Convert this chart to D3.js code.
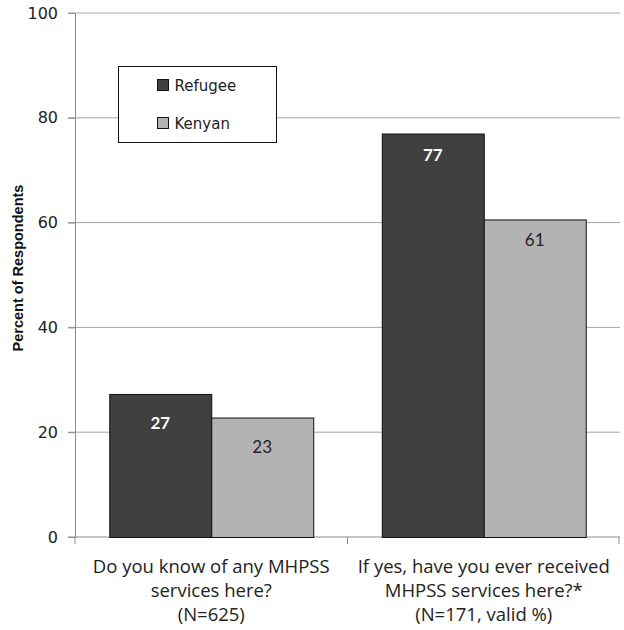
<!DOCTYPE html>
<html><head><meta charset="utf-8">
<script src="https://cdn.jsdelivr.net/npm/d3@7"></script>
<style>body{margin:0;background:#fff}</style>
</head><body>
<script>
const categories = [
  ["Do you know of any MHPSS", "services here?", "(N=625)"],
  ["If yes, have you ever received", "MHPSS services here?*", "(N=171, valid %)"]
];
const seriesNames = ["Refugee", "Kenyan"];
const refugee = [27.3, 77.0];
const kenyan = [22.8, 60.6];
const labelsRefugee = ["27", "77"];
const labelsKenyan = ["23", "61"];
const yTicks = [0, 20, 40, 60, 80, 100];

const W = 624, H = 630;
const m = {left: 75, right: 4, top: 13, bottom: 93};
const svg = d3.select("body").append("svg").attr("width", W).attr("height", H);
const x = d3.scaleBand().domain([0, 1]).range([m.left, W - m.right]);
const y = d3.scaleLinear().domain([0, 100]).range([H - m.bottom, m.top]);
const colors = ["#404040", "#b3b3b3"];

// gridlines
svg.append("g").selectAll("line").data(yTicks.filter(d => d > 0)).join("line")
  .attr("x1", m.left - 7).attr("x2", W - m.right)
  .attr("y1", d => y(d)).attr("y2", d => y(d))
  .attr("stroke", "#a6a6a6").attr("stroke-width", 1);

// y axis
const yAxis = svg.append("g").attr("transform", `translate(${m.left},0)`)
  .call(d3.axisLeft(y).tickValues(yTicks).tickSize(7).tickPadding(10));
yAxis.select(".domain").attr("stroke", "#8c8c8c");
yAxis.selectAll(".tick line").attr("stroke", "#8c8c8c");
yAxis.selectAll("text").attr("font-family", "DejaVu Sans").attr("font-size", 16).attr("fill", "#222");

// x axis
const xAxisY = y(0);
svg.append("line").attr("x1", m.left - 7).attr("x2", W - m.right).attr("y1", xAxisY).attr("y2", xAxisY).attr("stroke", "#8c8c8c");
svg.append("g").selectAll("line").data([0, 1, 2]).join("line")
  .attr("x1", d => m.left + d * x.bandwidth() - (d === 2 ? 1 : 0))
  .attr("x2", d => m.left + d * x.bandwidth() - (d === 2 ? 1 : 0))
  .attr("y1", xAxisY).attr("y2", xAxisY + 7).attr("stroke", "#8c8c8c");

const inner = d3.scaleBand().domain([0, 1]).range([0, x.bandwidth()]).paddingOuter(0.336).paddingInner(0);
const data = [];
[0, 1].forEach(c => {
  data.push({c, s: 0, v: refugee[c], lab: labelsRefugee[c]});
  data.push({c, s: 1, v: kenyan[c], lab: labelsKenyan[c]});
});
svg.append("g").selectAll("rect").data(data).join("rect")
  .attr("x", d => x(d.c) + inner(d.s) + 0.5)
  .attr("y", d => y(d.v) + 0.5)
  .attr("width", inner.bandwidth())
  .attr("height", d => y(0) - y(d.v))
  .attr("fill", d => colors[d.s]).attr("stroke", "#111").attr("stroke-width", 1);

svg.append("g").selectAll("text").data(data).join("text")
  .attr("x", d => x(d.c) + inner(d.s) + inner.bandwidth() / 2)
  .attr("y", d => y(d.v) + (d.c === 0 ? 35 : 27))
  .attr("text-anchor", "middle")
  .attr("font-family", "Lato").attr("font-size", 17)
  .attr("font-weight", d => d.s === 0 ? "bold" : "normal")
  .attr("fill", d => d.s === 0 ? "#fff" : "#222")
  .text(d => d.lab);

// category labels
const cat = svg.append("g");
categories.forEach((lines, c) => {
  lines.forEach((t, i) => {
    cat.append("text").attr("x", x(c) + x.bandwidth() / 2).attr("y", xAxisY + 35.5 + i * 24)
      .attr("text-anchor", "middle").attr("font-family", "Open Sans").attr("font-size", 18.5).attr("fill", "#222").text(t);
  });
});

// y title
svg.append("text").attr("transform", `translate(23,268) rotate(-90)`)
  .attr("text-anchor", "middle").attr("font-family", "Liberation Sans").attr("font-weight", "bold")
  .attr("font-size", 14.5).attr("fill", "#111").text("Percent of Respondents");

// legend
const lg = svg.append("g").attr("transform", "translate(118.5,66.5)");
lg.append("rect").attr("width", 158).attr("height", 76).attr("fill", "#fff").attr("stroke", "#111");
seriesNames.forEach((n, i) => {
  lg.append("rect").attr("x", 39).attr("y", 13 + i * 38).attr("width", 11).attr("height", 11)
    .attr("fill", colors[i]).attr("stroke", "#111");
  lg.append("text").attr("x", 56).attr("y", 24 + i * 38).attr("font-family", "DejaVu Sans")
    .attr("font-size", 15).attr("fill", "#222").text(n);
});
</script>
</body></html>
